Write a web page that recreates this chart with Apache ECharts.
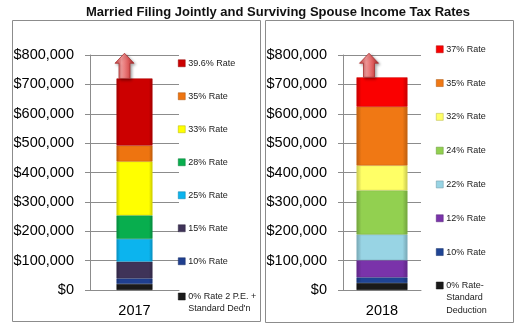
<!DOCTYPE html>
<html>
<head>
<meta charset="utf-8">
<script src="https://cdn.jsdelivr.net/npm/echarts@6/dist/echarts.min.js"></script>
<style>
html,body{margin:0;padding:0;background:#fff;}
#chart{width:525px;height:329px;}
</style>
</head>
<body>
<div id="chart"></div>
<script>
// ---- data ----
const titleText = 'Married Filing Jointly and Surviving Spouse Income Tax Rates';
const categories2017 = ['2017'];
const categories2018 = ['2018'];
const rates2017 = ['0% Rate 2 P.E. +\nStandard Ded\'n', '10% Rate', '15% Rate', '25% Rate', '28% Rate', '33% Rate', '35% Rate', '39.6% Rate'];
const amounts2017 = [20800, 18650, 57250, 77200, 80250, 183350, 54000, 228500];
const rates2018 = ['0% Rate-\nStandard\nDeduction', '10% Rate', '12% Rate', '22% Rate', '24% Rate', '32% Rate', '35% Rate', '37% Rate'];
const amounts2018 = [24000, 19050, 58350, 87600, 150000, 85000, 200000, 100000];
const arrowTip2017 = 806000;
const arrowTip2018 = 806000;
const yMin = 0, yMax = 800000, yStep = 100000;

// ---- styles ----
const colors2017 = ['#1a1a1a', '#1f3f8f', '#3f3358', '#0cb4ee', '#08ae4e', '#ffff00', '#ee7410', '#cc0000'];
const colors2018 = ['#1a1a1a', '#1f4494', '#7a33aa', '#98d4e4', '#92d050', '#ffff66', '#f07814', '#fa0000'];
const FONT = 'Liberation Sans, Arial, sans-serif';
const LH = 12.5;

function shade(hex, f) {
  const n = parseInt(hex.slice(1), 16);
  let r = (n >> 16) & 255, g = (n >> 8) & 255, b = n & 255;
  if (f < 0) { r = Math.round(r * (1 + f)); g = Math.round(g * (1 + f)); b = Math.round(b * (1 + f)); }
  else { r = Math.round(r + (255 - r) * f); g = Math.round(g + (255 - g) * f); b = Math.round(b + (255 - b) * f); }
  return 'rgb(' + r + ',' + g + ',' + b + ')';
}
function barFill(c) {
  return new echarts.graphic.LinearGradient(0, 0, 1, 0, [
    { offset: 0, color: shade(c, -0.22) },
    { offset: 0.1, color: c },
    { offset: 0.9, color: c },
    { offset: 1, color: shade(c, -0.22) }
  ]);
}

const chart = echarts.init(document.getElementById('chart'), null, { renderer: 'canvas' });

function makeSeries(names, values, colors, axisIdx, stackName, width) {
  return names.map((n, i) => ({
    type: 'bar',
    name: n,
    stack: stackName,
    xAxisIndex: axisIdx,
    yAxisIndex: axisIdx,
    barWidth: width,
    data: [values[i]],
    itemStyle: { color: barFill(colors[i]), borderColor: shade(colors[i], -0.15), borderWidth: 0.6 },
    emphasis: { disabled: true },
    silent: true
  }));
}

function arrowSeries(axisIdx, top, tip, offset) {
  return {
    type: 'custom',
    xAxisIndex: axisIdx,
    yAxisIndex: axisIdx,
    silent: true,
    z: 5,
    data: [[0, top, tip]],
    renderItem: function (params, api) {
      const base = api.coord([api.value(0), api.value(1)]);
      const t = api.coord([api.value(0), api.value(2)]);
      const cx = base[0] + offset;
      const sw = 5.5, hw = 9.5, hh = 10;
      return {
        type: 'polygon',
        shape: {
          points: [
            [cx - sw, base[1]], [cx - sw, t[1] + hh], [cx - hw, t[1] + hh], [cx, t[1]],
            [cx + hw, t[1] + hh], [cx + sw, t[1] + hh], [cx + sw, base[1]]
          ]
        },
        style: {
          fill: new echarts.graphic.LinearGradient(0, 0, 1, 0, [
            { offset: 0, color: '#c83c3c' },
            { offset: 0.35, color: '#f49a9a' },
            { offset: 0.7, color: '#dc5a5a' },
            { offset: 1, color: '#a82828' }
          ]),
          stroke: '#a83030',
          lineWidth: 0.8,
          shadowBlur: 3,
          shadowColor: 'rgba(0,0,0,0.35)',
          shadowOffsetX: 1.5,
          shadowOffsetY: 1.5
        }
      };
    }
  };
}

function yAxisCfg(idx) {
  return {
    type: 'value', gridIndex: idx, min: yMin, max: yMax, interval: yStep,
    axisLine: { show: true, lineStyle: { color: '#8c8c8c', width: 1 } },
    axisTick: { show: true, length: 5, lineStyle: { color: '#8c8c8c' } },
    splitLine: { show: true, lineStyle: { color: '#8c8c8c', width: 1 } },
    axisLabel: {
      margin: 16, color: '#000', fontFamily: FONT, fontSize: 14.5,
      formatter: v => '$' + v.toLocaleString('en-US')
    }
  };
}
function xAxisCfg(idx, cats) {
  return {
    type: 'category', gridIndex: idx, data: cats,
    axisLine: { show: true, lineStyle: { color: '#8c8c8c', width: 1 } },
    axisTick: { show: false },
    axisLabel: { margin: 13, color: '#000', fontFamily: FONT, fontSize: 14.5 }
  };
}
function legendItem(name, color) {
  return { name: name, itemStyle: { color: color, borderColor: shade(color, -0.3), borderWidth: 0.5 } };
}
function legendCfg(names, colors, left, top, gap) {
  // all but the bottom (multi-line) item, listed top to bottom
  const order = names.map((n, i) => i).reverse().slice(0, names.length - 1);
  return {
    orient: 'vertical', left: left, top: top, itemGap: gap,
    height: 320,
    itemWidth: 7, itemHeight: 7, icon: 'rect', selectedMode: false,
    padding: 0,
    textStyle: { fontFamily: FONT, fontSize: 9, color: '#222', lineHeight: LH, padding: [0, 0, 0, -2] },
    data: order.map(i => legendItem(names[i], colors[i]))
  };
}
function lastLegendCfg(names, colors, left, iconCenterY) {
  // multi-line entry: first line level with its swatch
  const nLines = names[0].split('\n').length;
  const boxH = (2 * nLines - 1) * LH;
  return {
    orient: 'vertical', left: left, top: iconCenterY - boxH / 2,
    itemWidth: 7, itemHeight: 7, icon: 'rect', selectedMode: false,
    padding: 0,
    formatter: n => '\n'.repeat(nLines - 1) + n,
    textStyle: { fontFamily: FONT, fontSize: 9, color: '#222', lineHeight: LH, align: 'left', padding: [0, 0, 0, -2] },
    data: [legendItem(names[0], colors[0])]
  };
}

const option = {
  animation: false,
  backgroundColor: '#fff',
  title: {
    text: titleText, left: 86, top: 6, padding: 0,
    textStyle: { fontFamily: FONT, fontWeight: 'bold', fontSize: 13, color: '#111' }
  },
  graphic: [
    { type: 'rect', shape: { x: 12.5, y: 20.5, width: 248, height: 301 }, style: { fill: null, stroke: '#8c8c8c', lineWidth: 1 }, z: 0, silent: true },
    { type: 'rect', shape: { x: 265.5, y: 20.5, width: 248, height: 302 }, style: { fill: null, stroke: '#8c8c8c', lineWidth: 1 }, z: 0, silent: true }
  ],
  grid: [
    { left: 90, right: 525 - 179, top: 55, bottom: 329 - 290 },
    { left: 343, right: 525 - 421, top: 55, bottom: 329 - 290 }
  ],
  xAxis: [xAxisCfg(0, categories2017), xAxisCfg(1, categories2018)],
  yAxis: [yAxisCfg(0), yAxisCfg(1)],
  legend: [
    legendCfg(rates2017, colors2017, 178, 57, 20.5),
    legendCfg(rates2018, colors2018, 436, 43, 21.3),
    lastLegendCfg(rates2017, colors2017, 178, 296.5),
    lastLegendCfg(rates2018, colors2018, 436, 285.5)
  ],
  series: [].concat(
    makeSeries(rates2017, amounts2017, colors2017, 0, 's2017', 36),
    makeSeries(rates2018, amounts2018, colors2018, 1, 's2018', 51),
    [
      arrowSeries(0, amounts2017.reduce((a, b) => a + b, 0), arrowTip2017, -10),
      arrowSeries(1, amounts2018.reduce((a, b) => a + b, 0), arrowTip2018, -13)
    ]
  )
};
chart.setOption(option);
</script>
</body>
</html>
